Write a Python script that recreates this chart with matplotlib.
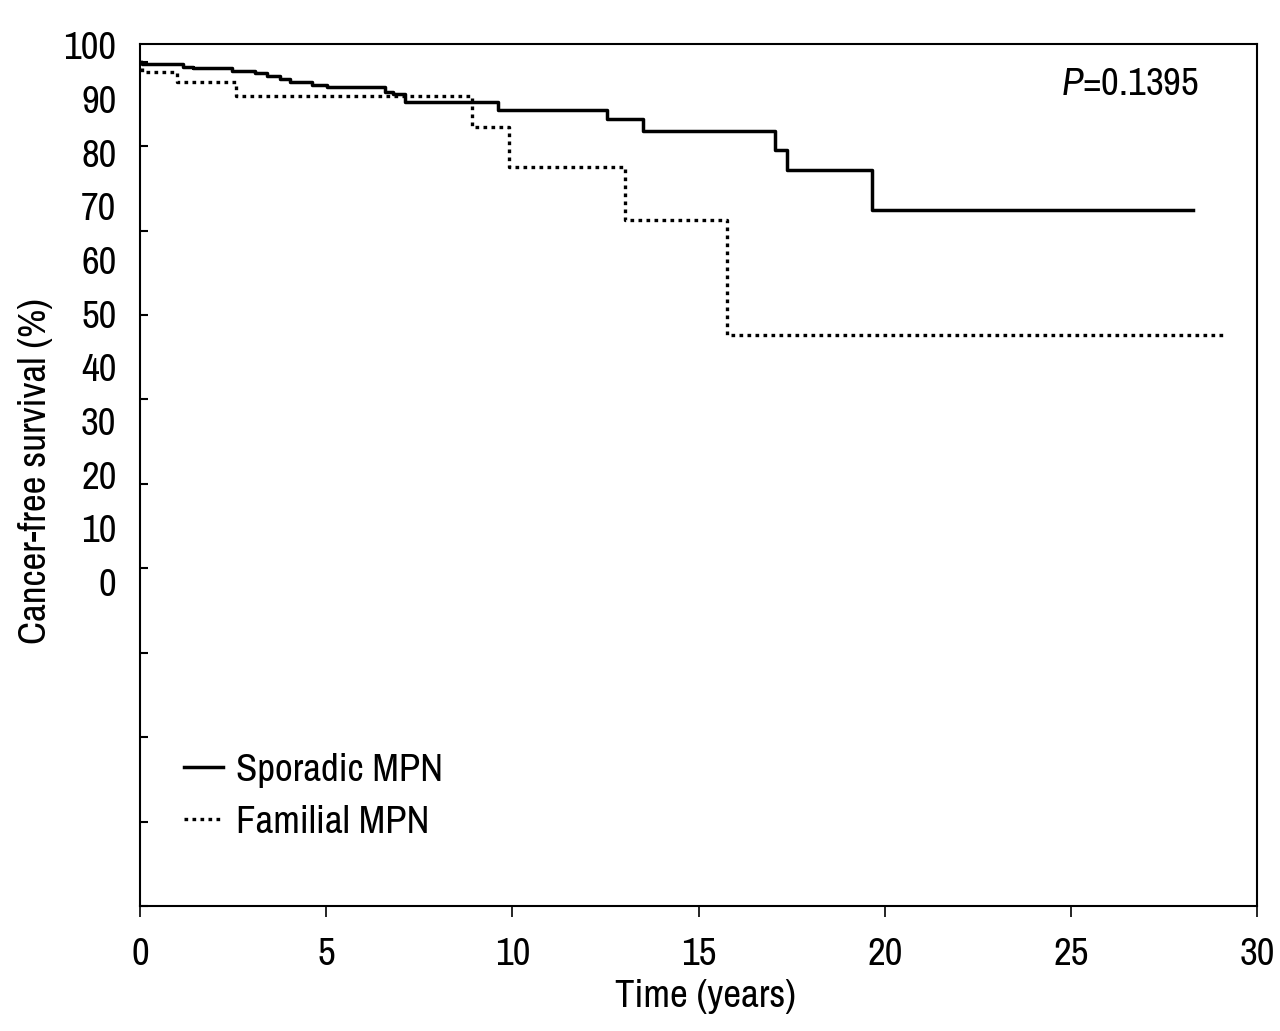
import matplotlib
matplotlib.use("Agg")
import matplotlib.pyplot as plt
from matplotlib import font_manager
import numpy as np

# pick a narrow sans if one is installed, otherwise Liberation Sans
names = sorted({f.name for f in font_manager.fontManager.ttflist})
narrow = [n for n in names if 'Narrow' in n or 'Condensed' in n]
main_font = narrow[0] if narrow else 'Liberation Sans'
plt.rcParams['font.family'] = [main_font, 'DejaVu Sans']
plt.rcParams['mathtext.fontset'] = 'custom'
plt.rcParams['mathtext.it'] = main_font + ':italic'
plt.rcParams['mathtext.rm'] = main_font

# Kaplan-Meier steps (years, cancer-free survival %)
sporadic_t = [0, 0.05, 1.15, 1.42, 2.47, 3.09, 3.41, 3.76, 4.03, 4.62, 5.02,
              6.58, 6.80, 7.12, 9.62, 12.54, 13.51, 17.06, 17.38, 19.66, 28.28]
sporadic_s = [100, 99.7, 99.4, 99.3, 98.9, 98.7, 98.3, 97.9, 97.6, 97.3, 97.0,
              96.4, 96.2, 95.2, 94.3, 93.2, 91.8, 89.6, 87.2, 82.4, 82.4]

familial_t = [0, 0.04, 0.99, 2.58, 8.92, 9.91, 13.03, 15.77, 29.14]
familial_s = [100, 98.8, 97.6, 96.0, 92.3, 87.5, 81.2, 67.6, 67.6]

ytick_labels = ['0', '10', '20', '30', '40', '50', '60', '70', '80', '90', '100']
xticks = [0, 5, 10, 15, 20, 25, 30]
p_text = '$P$=0.1395'

fs = 28

fig = plt.figure(figsize=(12.8, 10.31), dpi=100)
ax = fig.add_axes([0.1094, 0.1212, 0.8727, 0.8361])

ax.step(sporadic_t, sporadic_s, where='post', color='black', lw=2.5,
        label='Sporadic MPN')
ax.step(familial_t, familial_s, where='post', color='black', lw=2.4,
        linestyle=(0, (1.1, 1.3)), label='Familial MPN')

ax.set_xlim(0, 30)
ax.set_ylim(0, 102.1)

# tick marks (inside) every 10 %, labels sit on their own offset positions
ax.set_yticks(np.arange(0, 101, 10), minor=True)
label_pos = 38.4 + np.arange(0, 101, 10) * 0.6355
ax.set_yticks(label_pos)
ax.set_yticklabels(ytick_labels)
ax.tick_params(axis='y', which='major', length=0, pad=17, labelsize=fs)
ax.tick_params(axis='y', which='minor', direction='in', length=6, width=1.5)

ax.set_xticks(xticks)
ax.tick_params(axis='x', direction='out', length=8, width=1.2, pad=14,
               labelsize=fs)

for s in ax.spines.values():
    s.set_linewidth(1.5)

ax.set_xlabel('Time (years)', fontsize=fs)
ax.xaxis.set_label_coords(0.506, -0.085)
ax.set_ylabel('Cancer-free survival (%)', fontsize=fs)
ax.yaxis.set_label_coords(-0.078, 0.505)

ax.text(0.948, 0.953, p_text, transform=ax.transAxes, fontsize=fs,
        ha='right', va='center')

leg = ax.legend(loc='lower left', bbox_to_anchor=(0.008, 0.036), frameon=False,
                fontsize=fs, handlelength=1.0, handletextpad=0.35,
                labelspacing=0.45)

fig.savefig('out.png', dpi=100)
